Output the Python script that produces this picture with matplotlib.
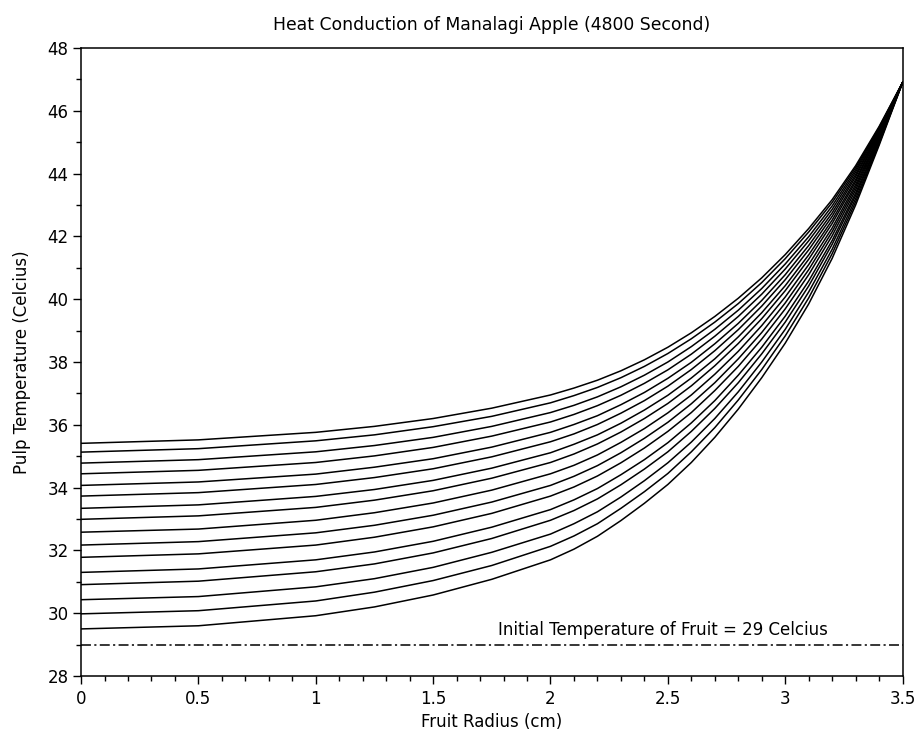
import numpy as np
import matplotlib
matplotlib.use('Agg')
import matplotlib.pyplot as plt
from matplotlib.ticker import MultipleLocator

radius = [0, 0.5, 1.0, 1.25, 1.5, 1.75, 2.0, 2.1, 2.2, 2.3, 2.4, 2.5,
          2.6, 2.7, 2.8, 2.9, 3.0, 3.1, 3.2, 3.3, 3.4, 3.5]

# pulp temperature profiles (Celcius), lowest to highest
temp_01 = [29.50, 29.60, 29.92, 30.20, 30.58, 31.08, 31.70, 32.04, 32.45, 32.95, 33.50, 34.10, 34.80, 35.60, 36.50, 37.50, 38.60, 39.85, 41.30, 43.00, 44.90, 46.90]
temp_02 = [29.98, 30.08, 30.39, 30.67, 31.04, 31.52, 32.13, 32.46, 32.85, 33.34, 33.87, 34.45, 35.14, 35.91, 36.79, 37.76, 38.83, 40.04, 41.45, 43.10, 44.95, 46.90]
temp_03 = [30.43, 30.53, 30.84, 31.10, 31.46, 31.94, 32.52, 32.85, 33.23, 33.70, 34.22, 34.79, 35.45, 36.20, 37.05, 38.00, 39.04, 40.23, 41.59, 43.20, 44.99, 46.90]
temp_04 = [30.91, 31.02, 31.32, 31.57, 31.92, 32.38, 32.96, 33.27, 33.64, 34.09, 34.59, 35.14, 35.79, 36.52, 37.34, 38.26, 39.27, 40.42, 41.75, 43.30, 45.04, 46.90]
temp_05 = [31.30, 31.41, 31.70, 31.95, 32.29, 32.74, 33.30, 33.61, 33.97, 34.41, 34.89, 35.43, 36.06, 36.77, 37.58, 38.47, 39.46, 40.58, 41.87, 43.38, 45.08, 46.90]
temp_06 = [31.78, 31.89, 32.17, 32.42, 32.75, 33.18, 33.73, 34.02, 34.37, 34.79, 35.26, 35.79, 36.39, 37.09, 37.86, 38.73, 39.69, 40.78, 42.02, 43.48, 45.13, 46.90]
temp_07 = [32.17, 32.28, 32.56, 32.80, 33.12, 33.54, 34.07, 34.36, 34.70, 35.11, 35.57, 36.08, 36.67, 37.34, 38.10, 38.94, 39.88, 40.94, 42.15, 43.57, 45.17, 46.90]
temp_08 = [32.58, 32.68, 32.96, 33.20, 33.51, 33.92, 34.44, 34.71, 35.04, 35.44, 35.88, 36.38, 36.95, 37.61, 38.34, 39.16, 40.07, 41.10, 42.27, 43.65, 45.21, 46.90]
temp_09 = [32.99, 33.10, 33.37, 33.60, 33.90, 34.30, 34.80, 35.07, 35.39, 35.77, 36.20, 36.68, 37.24, 37.88, 38.59, 39.38, 40.27, 41.27, 42.41, 43.74, 45.26, 46.90]
temp_10 = [33.34, 33.45, 33.72, 33.94, 34.23, 34.62, 35.11, 35.38, 35.68, 36.05, 36.47, 36.94, 37.49, 38.10, 38.80, 39.57, 40.43, 41.41, 42.52, 43.81, 45.29, 46.90]
temp_11 = [33.73, 33.84, 34.10, 34.32, 34.60, 34.98, 35.46, 35.71, 36.01, 36.37, 36.77, 37.23, 37.76, 38.36, 39.03, 39.78, 40.62, 41.57, 42.64, 43.90, 45.33, 46.90]
temp_12 = [34.07, 34.18, 34.43, 34.65, 34.92, 35.29, 35.76, 36.01, 36.29, 36.64, 37.03, 37.48, 37.99, 38.58, 39.23, 39.96, 40.78, 41.71, 42.75, 43.97, 45.36, 46.90]
temp_13 = [34.44, 34.55, 34.80, 35.01, 35.28, 35.64, 36.09, 36.33, 36.61, 36.94, 37.32, 37.75, 38.25, 38.82, 39.45, 40.16, 40.96, 41.86, 42.86, 44.05, 45.40, 46.90]
temp_14 = [34.78, 34.89, 35.14, 35.34, 35.60, 35.95, 36.39, 36.62, 36.89, 37.21, 37.58, 38.00, 38.49, 39.04, 39.65, 40.34, 41.12, 41.99, 42.97, 44.12, 45.44, 46.90]
temp_15 = [35.13, 35.24, 35.49, 35.68, 35.94, 36.27, 36.70, 36.93, 37.19, 37.50, 37.86, 38.27, 38.74, 39.27, 39.86, 40.53, 41.29, 42.14, 43.08, 44.19, 45.47, 46.90]
temp_16 = [35.41, 35.52, 35.76, 35.95, 36.20, 36.53, 36.95, 37.17, 37.42, 37.72, 38.07, 38.47, 38.93, 39.45, 40.03, 40.68, 41.42, 42.25, 43.17, 44.25, 45.50, 46.90]

profiles = [temp_01, temp_02, temp_03, temp_04, temp_05, temp_06, temp_07, temp_08,
            temp_09, temp_10, temp_11, temp_12, temp_13, temp_14, temp_15, temp_16]

initial_temp = 29
x_ticks = [0, 0.5, 1, 1.5, 2, 2.5, 3, 3.5]
x_tick_labels = ['0', '0.5', '1', '1.5', '2', '2.5', '3', '3.5']
y_ticks = [28, 30, 32, 34, 36, 38, 40, 42, 44, 46, 48]

plt.rcParams['font.family'] = ['DejaVu Sans']

fig = plt.figure(figsize=(9.21, 7.36), dpi=100)
ax = fig.add_axes([0.088, 0.0815, 0.892, 0.8533])

for temps in profiles:
    ax.plot(radius, temps, color='black', linewidth=1.1)

# initial temperature reference line
ax.plot([0, 3.5], [initial_temp, initial_temp], color='black', linewidth=1.1,
        linestyle=(0, (6.5, 2.2, 1.4, 2.2)))
ax.text(1.775, 29.47, 'Initial Temperature of Fruit = 29 Celcius',
        fontsize=12, va='center', ha='left')

ax.set_xlim(0, 3.5)
ax.set_ylim(28, 48)
ax.set_xticks(x_ticks)
ax.set_xticklabels(x_tick_labels)
ax.set_yticks(y_ticks)
ax.xaxis.set_minor_locator(MultipleLocator(0.1))
ax.yaxis.set_minor_locator(MultipleLocator(1))
ax.tick_params(axis='both', which='major', direction='out', length=6, width=1, labelsize=12)
ax.tick_params(axis='both', which='minor', direction='out', length=3.5, width=1)
ax.tick_params(axis='x', which='major', pad=4)
ax.tick_params(axis='y', which='major', pad=3)
for side in ax.spines.values():
    side.set_linewidth(1.1)

ax.set_title('Heat Conduction of Manalagi Apple (4800 Second)', fontsize=12.4, pad=13)
ax.set_xlabel('Fruit Radius (cm)', fontsize=12, labelpad=4)
ax.set_ylabel('Pulp Temperature (Celcius)', fontsize=12, labelpad=12)

plt.savefig('out.png', dpi=100)
plt.close()
